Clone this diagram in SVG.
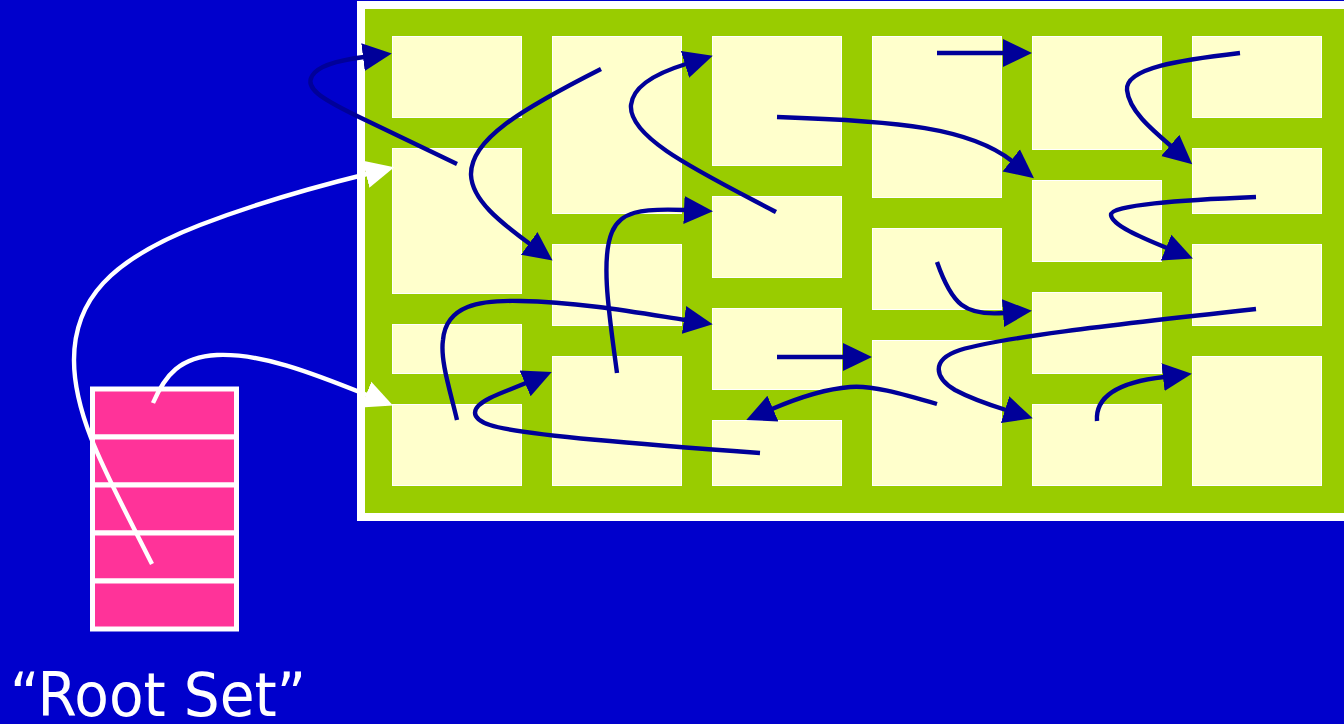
<svg xmlns="http://www.w3.org/2000/svg" width="1344" height="724" viewBox="0 0 1344 724">
<style>
.box{fill:#FFFFCC;stroke:#FFFFFF;stroke-width:1}
.c{fill:none;stroke:#000099;stroke-width:4.4}
.w{fill:none;stroke:#FFFFFF;stroke-width:4.4}
.cell{fill:#FF3399;stroke:#FFFFFF;stroke-width:5}
</style>
<defs>
<marker id="ab" markerUnits="userSpaceOnUse" markerWidth="30" markerHeight="30" viewBox="0 0 30 30" refX="1" refY="15" orient="auto"><path d="M0,1 L29,15 L0,29 Z" fill="#000099"/></marker>
<marker id="aw" markerUnits="userSpaceOnUse" markerWidth="30" markerHeight="30" viewBox="0 0 30 30" refX="1" refY="15" orient="auto"><path d="M0,1 L29,15 L0,29 Z" fill="#FFFFFF"/></marker>
</defs>
<rect x="0" y="0" width="1344" height="724" fill="#0000CC"/>
<g id="heap">
<rect x="361" y="5" width="1000" height="512" fill="#99CC00" stroke="#FFFFFF" stroke-width="8"/>
</g>
<g id="col1">
<rect class="box" x="392.5" y="36.5" width="129" height="81"/>
<rect class="box" x="392.5" y="148.5" width="129" height="145"/>
<rect class="box" x="392.5" y="324.5" width="129" height="49"/>
<rect class="box" x="392.5" y="404.5" width="129" height="81"/>
</g>
<g id="col2">
<rect class="box" x="552.5" y="36.5" width="129" height="177"/>
<rect class="box" x="552.5" y="244.5" width="129" height="81"/>
<rect class="box" x="552.5" y="356.5" width="129" height="129"/>
</g>
<g id="col3">
<rect class="box" x="712.5" y="36.5" width="129" height="129"/>
<rect class="box" x="712.5" y="196.5" width="129" height="81"/>
<rect class="box" x="712.5" y="308.5" width="129" height="81"/>
<rect class="box" x="712.5" y="420.5" width="129" height="65"/>
</g>
<g id="col4">
<rect class="box" x="872.5" y="36.5" width="129" height="161"/>
<rect class="box" x="872.5" y="228.5" width="129" height="81"/>
<rect class="box" x="872.5" y="340.5" width="129" height="145"/>
</g>
<g id="col5">
<rect class="box" x="1032.5" y="36.5" width="129" height="113"/>
<rect class="box" x="1032.5" y="180.5" width="129" height="81"/>
<rect class="box" x="1032.5" y="292.5" width="129" height="81"/>
<rect class="box" x="1032.5" y="404.5" width="129" height="81"/>
</g>
<g id="col6">
<rect class="box" x="1192.5" y="36.5" width="129" height="81"/>
<rect class="box" x="1192.5" y="148.5" width="129" height="65"/>
<rect class="box" x="1192.5" y="244.5" width="129" height="81"/>
<rect class="box" x="1192.5" y="356.5" width="129" height="129"/>
</g>
<g id="rootset">
<rect class="cell" x="92.5" y="389" width="144" height="48"/>
<rect class="cell" x="92.5" y="437" width="144" height="48"/>
<rect class="cell" x="92.5" y="485" width="144" height="48"/>
<rect class="cell" x="92.5" y="533" width="144" height="48"/>
<rect class="cell" x="92.5" y="581" width="144" height="48"/>
</g>
<g id="label">
<text x="10" y="716" font-family="DejaVu Sans, sans-serif" font-size="60" fill="#FFFFFF" textLength="296" lengthAdjust="spacingAndGlyphs">“Root Set”</text>
</g>
<g id="connectors">
<path class="w" marker-end="url(#aw)" d="M152,564 C110,480 74,420 74,360 C74,300 110,260 200,225 C260,202 310,188 367,174"/>
<path class="w" marker-end="url(#aw)" d="M153,403 C165,375 180,357 217,355 C260,353 310,372 367,395"/>
<path class="c" marker-end="url(#ab)" d="M457,164 L357,116 C320,98 305,88 312,76 C318,65 340,60 364,57"/>
<path class="c" marker-end="url(#ab)" d="M601,69 C520,110 470,140 471,175 C472,200 500,222 530,244"/>
<path class="c" marker-end="url(#ab)" d="M776,212 C700,172 628,138 631,105 C633,85 660,72 686,64"/>
<path class="c" marker-end="url(#ab)" d="M777,117 C900,121 970,128 1012,161"/>
<path class="c" marker-end="url(#ab)" d="M937,53 L1004,53"/>
<path class="c" marker-end="url(#ab)" d="M1240,53 C1180,60 1125,68 1127,90 C1129,110 1150,128 1171,146"/>
<path class="c" marker-end="url(#ab)" d="M1256,197 C1180,200 1110,205 1111,215 C1112,225 1140,237 1167,248"/>
<path class="c" marker-end="url(#ab)" d="M937,262 C952,305 965,316 1004,313"/>
<path class="c" marker-end="url(#ab)" d="M777,357 L844,357"/>
<path class="c" marker-end="url(#ab)" d="M937,404 C900,393 870,385 850,387 C825,389 800,397 772,409"/>
<path class="c" marker-end="url(#ab)" d="M1256,309 C1100,326 1000,338 960,350 C930,360 935,378 955,390 C970,398 990,405 1006,410"/>
<path class="c" marker-end="url(#ab)" d="M1097,421 C1095,395 1120,382 1164,377"/>
<path class="c" marker-end="url(#ab)" d="M457,420 C450,390 440,360 443,340 C446,305 480,300 520,301 C580,302 640,313 685,320"/>
<path class="c" marker-end="url(#ab)" d="M617,373 C610,320 600,260 612,232 C620,212 640,208 685,210"/>
<path class="c" marker-end="url(#ab)" d="M760,453 C650,445 520,435 490,425 C470,418 470,408 490,398 C500,393 512,389 526,383"/>
</g>
</svg>
